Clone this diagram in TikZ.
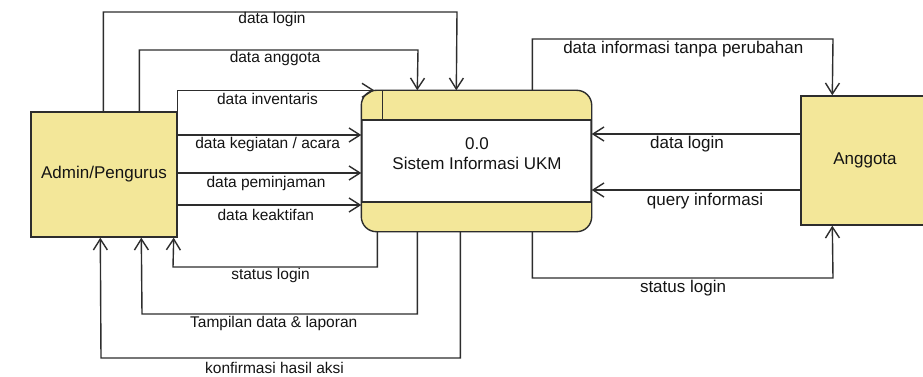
\documentclass[tikz,border=0pt]{standalone}
\usepackage{fontspec}
\setmainfont{Liberation Sans}
\usetikzlibrary{arrows.meta}
\definecolor{boxyellow}{RGB}{243,231,153}
\definecolor{linegray}{RGB}{45,45,45}
\definecolor{textgray}{RGB}{20,20,20}
\tikzset{
  entity/.style={draw=linegray, line width=1.4pt, fill=boxyellow, rectangle, inner sep=0pt, text=textgray, font=\fontsize{17}{20}\selectfont},
  flow/.style={draw=linegray, line width=1.4pt, -{Straight Barb[length=11pt,width=14pt]}},
  lbl/.style={text=textgray, font=\fontsize{15.5}{18}\selectfont, inner sep=0pt},
  rlbl/.style={text=textgray, font=\fontsize{17}{20}\selectfont, inner sep=0pt},
}
\begin{document}
\begin{tikzpicture}[x=1pt,y=-1pt]
\useasboundingbox (0,0) rectangle (923,377);
\fill[white] (0,0) rectangle (923,377);
% entities
\node[entity, minimum width=146pt, minimum height=125pt] (admin) at (104,174.5) {Admin/Pengurus};
\node[entity, minimum width=128pt, minimum height=129pt] (anggota) at (865,160.5) {Anggota};
% process
\node[draw=linegray, line width=1.4pt, fill=white, rounded corners=15pt, minimum width=229pt, minimum height=140pt, inner sep=0pt] (proc) at (476.5,161) {};
\begin{scope}
  \clip[rounded corners=15pt] (proc.north west) rectangle (proc.south east);
  \fill[boxyellow] (proc.north west) rectangle (591,120);
  \fill[boxyellow] (362,202) rectangle (proc.south east);
\end{scope}
\draw[linegray, line width=1.4pt, rounded corners=15pt] (proc.north west) rectangle (proc.south east);
\coordinate (bandtop) at (0,120);
\coordinate (bandbot) at (0,202);
\draw[linegray, line width=1.4pt] (proc.west |- bandtop) -- (proc.east |- bandtop);
\draw[linegray, line width=1.4pt] (proc.west |- bandbot) -- (proc.east |- bandbot);
\draw[linegray, line width=1.4pt] ([xshift=21pt]proc.north west) -- ([xshift=21pt]proc.north west |- bandtop);
\node[rlbl, align=center] (proctext) at (477,154) {0.0\\Sistem Informasi UKM};
% helper levels
\coordinate (ykeg) at (0,135);
\coordinate (ypem) at (0,173);
\coordinate (ykea) at (0,205);
\coordinate (ylog) at (0,134);
\coordinate (yqry) at (0,190);
% left inputs
\draw[flow] ([xshift=73pt]admin.north west) |- (457,12) -- ([xshift=95pt]proc.north west);
\draw[flow] ([xshift=109pt]admin.north west) |- (418,50) -- ([xshift=56pt]proc.north west);
\draw[flow] (admin.north east) |- ([xshift=13pt]proc.north west);
\draw[flow] (admin.east |- ykeg) -- (proc.west |- ykeg);
\draw[flow] (admin.east |- ypem) -- (proc.west |- ypem);
\draw[flow] (admin.east |- ykea) -- (proc.west |- ykea);
% left returns
\draw[flow] ([xshift=16pt]proc.south west) |- (173,267) -- ([xshift=-4pt]admin.south east);
\draw[flow] ([xshift=56pt]proc.south west) |- (142,314) -- ([xshift=111pt]admin.south west);
\draw[flow] ([xshift=99pt]proc.south west) |- (101,358) -- ([xshift=70pt]admin.south west);
% right flows
\draw[flow] ([xshift=171pt]proc.north west) |- (833,39) -- ([xshift=32pt]anggota.north west);
\draw[flow] (anggota.west |- ylog) -- (proc.east |- ylog);
\draw[flow] (anggota.west |- yqry) -- (proc.east |- yqry);
\draw[flow] ([xshift=171pt]proc.south west) |- (833,278) -- ([xshift=32pt]anggota.south west);
% labels
\node[lbl] (l1) at (272,19) {data login};
\node[lbl] (l2) at (275,58) {data anggota};
\node[lbl] (l3) at (267.5,99) {data inventaris};
\node[lbl] (l4) at (267.7,144) {data kegiatan / acara};
\node[lbl] (l5) at (266,183) {data peminjaman};
\node[lbl] (l6) at (265.8,215) {data keaktifan};
\node[lbl] (l7) at (270.5,275) {status login};
\node[lbl] (l8) at (273.7,323) {Tampilan data \& laporan};
\node[lbl] (l9) at (274.5,368) {konfirmasi hasil aksi};
\node[rlbl] (r1) at (683.3,49) {data informasi tanpa perubahan};
\node[rlbl] (r2) at (687,144) {data login};
\node[rlbl] (r3) at (705,201) {query informasi};
\node[rlbl] (r4) at (683,288) {status login};
\end{tikzpicture}
\end{document}
